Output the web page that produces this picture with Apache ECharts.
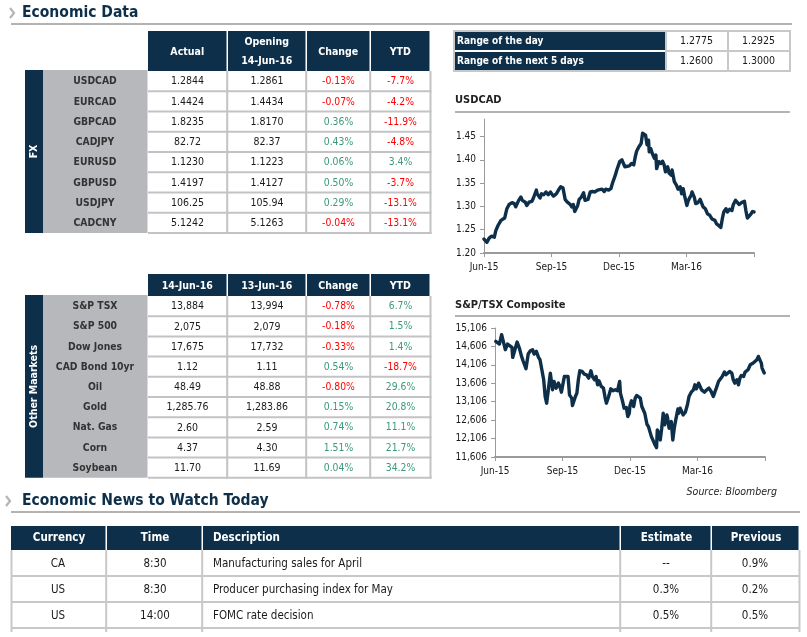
<!DOCTYPE html>
<html><head><meta charset="utf-8">
<script src="https://cdn.jsdelivr.net/npm/echarts@6/dist/echarts.min.js"></script>
<style>html,body{margin:0;padding:0;background:#fff}#c{width:807px;height:637px}</style>
</head><body><div id="c"></div>
<script>
// ---------- DATA ----------
const fxPairs = ['USDCAD','EURCAD','GBPCAD','CADJPY','EURUSD','GBPUSD','USDJPY','CADCNY'];
const fxActual = ['1.2844','1.4424','1.8235','82.72','1.1230','1.4197','106.25','5.1242'];
const fxOpening = ['1.2861','1.4434','1.8170','82.37','1.1223','1.4127','105.94','5.1263'];
const fxChange = [-0.13,-0.07,0.36,0.43,0.06,0.50,0.29,-0.04];
const fxYtd = [-7.7,-4.2,-11.9,-4.8,3.4,-3.7,-13.1,-13.1];
const fxHeaders = ['Actual','Opening\n14-Jun-16','Change','YTD'];

const mktNames = ['S&P TSX','S&P 500','Dow Jones','CAD Bond 10yr','Oil','Gold','Nat. Gas','Corn','Soybean'];
const mktToday = ['13,884','2,075','17,675','1.12','48.49','1,285.76','2.60','4.37','11.70'];
const mktPrev = ['13,994','2,079','17,732','1.11','48.88','1,283.86','2.59','4.30','11.69'];
const mktChange = [-0.78,-0.18,-0.33,0.54,-0.80,0.15,0.74,1.51,0.04];
const mktYtd = [6.7,1.5,1.4,-18.7,29.6,20.8,11.1,21.7,34.2];
const mktHeaders = ['14-Jun-16','13-Jun-16','Change','YTD'];

const rangeLabels = ['Range of the day','Range of the next 5 days'];
const rangeLow = ['1.2775','1.2600'];
const rangeHigh = ['1.2925','1.3000'];

const newsHeaders = ['Currency','Time','Description','Estimate','Previous'];
const newsCurrency = ['CA','US','US'];
const newsTime = ['8:30','8:30','14:00'];
const newsDesc = ['Manufacturing sales for April','Producer purchasing index for May','FOMC rate decision'];
const newsEstimate = ['--','0.3%','0.5%'];
const newsPrevious = ['0.9%','0.2%','0.5%'];

const xTickLabels = ['Jun-15','Sep-15','Dec-15','Mar-16'];
const usdcadTicks = [1.20,1.25,1.30,1.35,1.40,1.45];
const tsxTicks = [11606,12106,12606,13106,13606,14106,14606,15106];

const usdcadDates = ['2015-06-01','2015-06-05','2015-06-08','2015-06-11','2015-06-15','2015-06-17','2015-06-20','2015-06-24','2015-06-26','2015-06-29',
'2015-07-02','2015-07-05','2015-07-09','2015-07-12','2015-07-14','2015-07-18','2015-07-21','2015-07-23','2015-07-27','2015-07-29',
'2015-08-01','2015-08-05','2015-08-07','2015-08-11','2015-08-12','2015-08-16','2015-08-18','2015-08-21','2015-08-24','2015-08-27','2015-08-30',
'2015-09-03','2015-09-07','2015-09-10','2015-09-13','2015-09-16','2015-09-19','2015-09-22','2015-09-26','2015-09-28','2015-09-30',
'2015-10-02','2015-10-06','2015-10-08','2015-10-11','2015-10-14','2015-10-16','2015-10-18','2015-10-20','2015-10-23','2015-10-26','2015-10-29',
'2015-11-02','2015-11-04','2015-11-08','2015-11-11','2015-11-13','2015-11-17','2015-11-20','2015-11-22','2015-11-26','2015-11-28','2015-11-30',
'2015-12-02','2015-12-05','2015-12-07','2015-12-09','2015-12-11','2015-12-15','2015-12-18','2015-12-21','2015-12-23','2015-12-25','2015-12-28','2015-12-31',
'2016-01-02','2016-01-04','2016-01-06','2016-01-08','2016-01-10','2016-01-11','2016-01-13','2016-01-15','2016-01-18','2016-01-20','2016-01-21','2016-01-24','2016-01-27','2016-01-29','2016-01-31',
'2016-02-02','2016-02-05','2016-02-07','2016-02-10','2016-02-11','2016-02-14','2016-02-17','2016-02-19','2016-02-22','2016-02-24','2016-02-26','2016-02-28',
'2016-03-02','2016-03-04','2016-03-08','2016-03-09','2016-03-12','2016-03-14','2016-03-17','2016-03-20','2016-03-22','2016-03-24','2016-03-27','2016-03-30',
'2016-04-02','2016-04-05','2016-04-07','2016-04-09','2016-04-11','2016-04-14','2016-04-17','2016-04-19','2016-04-21','2016-04-24','2016-04-26','2016-04-29',
'2016-05-02','2016-05-04','2016-05-07','2016-05-09','2016-05-12','2016-05-14','2016-05-16','2016-05-19','2016-05-21','2016-05-23','2016-05-25','2016-05-28','2016-05-30','2016-06-01'];
const usdcadValues = [1.230,1.223,1.232,1.236,1.234,1.248,1.259,1.270,1.270,1.275,
1.295,1.304,1.308,1.306,1.299,1.313,1.320,1.313,1.309,1.302,
1.309,1.311,1.318,1.335,1.327,1.318,1.327,1.325,1.331,1.325,1.331,
1.322,1.327,1.335,1.342,1.340,1.315,1.309,1.304,1.299,1.304,
1.289,1.302,1.315,1.320,1.329,1.313,1.309,1.315,1.331,1.332,1.331,
1.335,1.331,1.337,1.332,1.337,1.335,1.338,1.349,1.367,1.378,1.378,
1.396,1.400,1.392,1.385,1.389,1.387,1.392,1.389,1.406,1.419,1.428,1.435,
1.457,1.460,1.453,1.432,1.442,1.417,1.424,1.414,1.403,1.410,1.381,1.396,1.392,1.397,1.390,
1.374,1.385,1.371,1.367,1.378,1.353,1.345,1.337,1.342,1.327,1.338,1.322,
1.302,1.313,1.325,1.331,1.320,1.306,1.308,1.315,1.311,1.299,1.295,1.284,
1.281,1.273,1.277,1.270,1.263,1.259,1.255,1.273,1.288,1.295,1.288,1.294,
1.291,1.304,1.313,1.315,1.304,1.302,1.309,1.311,1.291,1.275,1.279,1.284,1.289,1.288];

const tsxDates = ['2015-06-02','2015-06-04','2015-06-07','2015-06-10','2015-06-11','2015-06-15','2015-06-18','2015-06-20','2015-06-24','2015-06-25','2015-06-28',
'2015-07-01','2015-07-04','2015-07-07','2015-07-09','2015-07-13','2015-07-16','2015-07-19','2015-07-22','2015-07-24','2015-07-27','2015-07-30',
'2015-08-01','2015-08-03','2015-08-06','2015-08-08','2015-08-10','2015-08-12','2015-08-15','2015-08-17','2015-08-18','2015-08-20','2015-08-23','2015-08-26','2015-08-28','2015-08-30',
'2015-09-03','2015-09-05','2015-09-08','2015-09-10','2015-09-13','2015-09-14','2015-09-18','2015-09-20','2015-09-22','2015-09-24','2015-09-27','2015-09-30',
'2015-10-03','2015-10-06','2015-10-09','2015-10-11','2015-10-14','2015-10-16','2015-10-18','2015-10-20','2015-10-23','2015-10-26','2015-10-28','2015-10-30',
'2015-11-02','2015-11-05','2015-11-08','2015-11-11','2015-11-14','2015-11-17','2015-11-18','2015-11-21','2015-11-23','2015-11-26','2015-11-28','2015-11-30',
'2015-12-01','2015-12-03','2015-12-06','2015-12-08','2015-12-10','2015-12-12','2015-12-15','2015-12-17','2015-12-19','2015-12-21','2015-12-24','2015-12-26','2015-12-28','2015-12-30',
'2016-01-02','2016-01-04','2016-01-06','2016-01-07','2016-01-09','2016-01-11','2016-01-13','2016-01-15','2016-01-17','2016-01-20','2016-01-21','2016-01-23','2016-01-26','2016-01-28','2016-01-30',
'2016-02-01','2016-02-04','2016-02-05','2016-02-07','2016-02-09','2016-02-11','2016-02-14','2016-02-17','2016-02-19','2016-02-22','2016-02-25','2016-02-27','2016-02-29',
'2016-03-03','2016-03-05','2016-03-07','2016-03-11','2016-03-14','2016-03-17','2016-03-20','2016-03-23','2016-03-25','2016-03-27','2016-03-30',
'2016-04-01','2016-04-04','2016-04-07','2016-04-09','2016-04-11','2016-04-14','2016-04-17','2016-04-19','2016-04-21','2016-04-24','2016-04-26','2016-04-28','2016-04-30',
'2016-05-03','2016-05-05','2016-05-07','2016-05-09','2016-05-12','2016-05-14','2016-05-16','2016-05-18','2016-05-21','2016-05-23','2016-05-25','2016-05-27','2016-05-28','2016-05-31'];
const tsxValues = [14743,14789,14671,14925,14970,14517,14671,14698,14580,14308,14517,
14725,14562,14335,14218,14000,14399,14490,14517,14399,14471,14308,
14245,14218,13701,13247,13066,13383,13882,13855,13429,13655,13474,13610,13520,13365,
13791,13764,13791,13293,13202,13003,13247,13338,13701,13945,13927,13855,
13837,13746,13945,13791,13701,13791,13565,13673,13520,13474,13247,13066,
13247,13456,13402,13429,13402,13655,13338,13111,12930,12948,12703,12794,
13003,13129,12975,13202,13275,13247,13202,12975,12930,12794,12495,12431,12295,12159,
12023,11932,11860,12340,12250,12069,12386,12794,12477,12749,12658,12386,12567,12069,12386,
12613,12912,12794,12930,12839,12749,12821,13039,13247,13365,13429,13565,13456,
13610,13565,13429,13365,13429,13474,13383,13247,13365,13474,13655,
13673,13791,13909,13837,13855,13927,13882,13701,13610,13701,13565,13746,13819,
13791,13909,13855,13973,14109,14063,14154,14109,14245,14335,14381,14154,14018,13884];

// ---------- STYLE ----------
const FONT = "'DejaVu Sans Condensed','DejaVu Sans',sans-serif";
const NAVY = '#0d2f4a';
const GRAYCOL = '#b7b8bb';
const GRID = '#c3c3c6';
const RED = '#ff0000';
const GREEN = '#3a9a78';
const TEXT = '#1a1a1a';

const g = [];
function rect(x,y,w,h,fill,extra){ g.push({type:'rect', silent:true, shape:{x:x,y:y,width:w,height:h}, style:Object.assign({fill:fill}, extra||{})}); }
function line(x1,y1,x2,y2,stroke,lw){ g.push({type:'line', silent:true, shape:{x1:x1,y1:y1,x2:x2,y2:y2}, style:{stroke:stroke, lineWidth:lw||1}}); }
function txt(x,y,s,o){ o=o||{};
  g.push({type:'text', silent:true, x:x, y:y, rotation:o.rot||0, z:10,
    style:{text:s, x:0, y:0, fill:o.color||TEXT,
      font:(o.italic?'italic ':'')+(o.bold?'bold ':'')+(o.size||10)+'px '+FONT,
      textAlign:o.align||'center', textVerticalAlign:'middle', lineHeight:o.lh||null}});
}
function chevron(x,y){ g.push({type:'polyline', silent:true, shape:{points:[[x,y-5],[x+4,y],[x,y+5]]}, style:{stroke:'#b5b5b5', lineWidth:2.2, fill:null}}); }
const pct = (v,d) => v.toFixed(d)+'%';
const sgnColor = v => v < 0 ? RED : GREEN;

// ---------- HEADER ----------
chevron(10,13);
txt(22,13,'Economic Data',{bold:true,size:15.5,align:'left',color:NAVY});
line(11,24,792,24,'#b3b3b3',2);

// ---------- MARKET TABLES ----------
const tCols = [148,228,307,371,431];
function marketTable(hTop,hH,headers,rowTop,rowH,labels,c1,c2,chg,ytd,side,sideTop){
  const n = labels.length, bottom = rowTop + n*rowH;
  for(let i=0;i<4;i++) rect(tCols[i],hTop,tCols[i+1]-tCols[i]-1.5,hH,NAVY);
  rect(25,sideTop,18,bottom-sideTop,NAVY);
  rect(43,sideTop,104.5,bottom-sideTop,GRAYCOL);
  for(let r=1;r<=n;r++) line(148,rowTop+r*rowH,431.5,rowTop+r*rowH,GRID,2);
  [227.2,306.2,370.2,430.5].forEach(x=>line(x,hTop+hH,x,bottom+1,GRID,2));
  for(let i=0;i<4;i++){
    const cx=(tCols[i]+tCols[i+1]-1.5)/2;
    txt(cx,hTop+hH/2+1,headers[i],{bold:true,size:10.5,color:'#fff',lh:19});
  }
  txt(34,(sideTop+bottom)/2,side,{bold:true,size:10.5,color:'#fff',rot:Math.PI/2});
  for(let r=0;r<n;r++){
    const cy=rowTop+r*rowH+rowH/2+0.5;
    txt(95,cy,labels[r],{bold:true,size:10.3,color:'#333'});
    txt(187.5,cy,c1[r],{size:10.5});
    txt(267,cy,c2[r],{size:10.5});
    txt(338.5,cy,pct(chg[r],2),{size:10.3,color:sgnColor(chg[r])});
    txt(400.5,cy,pct(ytd[r],1),{size:10.3,color:sgnColor(ytd[r])});
  }
}
marketTable(31,40,fxHeaders,71,20.25,fxPairs,fxActual,fxOpening,fxChange,fxYtd,'FX',70);
marketTable(274,22,mktHeaders,296,20.2,mktNames,mktToday,mktPrev,mktChange,mktYtd,'Other Maarkets',295);

// ---------- RANGE TABLE ----------
rect(454,31,336,40,'#fff',{stroke:'#c8c8c8',lineWidth:2});
rangeLabels.forEach((s,i)=>{
  const y=32+i*20;
  rect(455,y,210,18,NAVY);
  txt(457,y+9,s,{bold:true,size:10,color:'#fff',align:'left'});
  txt(696.5,y+9.5,rangeLow[i],{size:10.5});
  txt(758.5,y+9.5,rangeHigh[i],{size:10.5});
});
line(666,31,666,71,'#c8c8c8',2);
line(728,31,728,71,'#c8c8c8',2);
line(666,51,790,51,'#c8c8c8',2);

// ---------- CHART TITLES ----------
txt(455,100,'USDCAD',{bold:true,size:11,align:'left',color:'#222'});
line(455,112,790,112,'#b3b3b3',2);
txt(455,305,'S&P/TSX Composite',{bold:true,size:11,align:'left',color:'#222'});
line(455,316,790,316,'#b3b3b3',2);
txt(777,492,'Source: Bloomberg',{italic:true,size:10.5,align:'right',color:'#222'});

// ---------- NEWS ----------
chevron(6,501);
txt(22,501,'Economic News to Watch Today',{bold:true,size:15.5,align:'left',color:NAVY});
line(11,512,800,512,'#b3b3b3',2);
const nb = [11,107,203,621,712,800];
for(let i=0;i<5;i++) rect(nb[i],526,nb[i+1]-nb[i]-1.5,24,NAVY);
[576,602,628].forEach(y=>line(11,y,800,y,'#c8c8c8',2));
[11.5,106.2,202.2,620.2,711.2,799.5].forEach(x=>line(x,550,x,632,'#c8c8c8',2));
newsHeaders.forEach((h,i)=>{
  if(i===2) txt(213,538,h,{bold:true,size:11.5,color:'#fff',align:'left'});
  else txt((nb[i]+nb[i+1])/2,538,h,{bold:true,size:11.5,color:'#fff'});
});
for(let r=0;r<3;r++){
  const cy=564+r*26;
  txt(58,cy,newsCurrency[r],{size:11.5});
  txt(155,cy,newsTime[r],{size:11.5});
  txt(213,cy,newsDesc[r],{size:11.5,align:'left'});
  txt(666,cy,newsEstimate[r],{size:11.5});
  txt(755,cy,newsPrevious[r],{size:11.5});
}

// ---------- CHARTS ----------
const base = Date.parse('2015-06-01');
const dayOf = s => (Date.parse(s) - base)/864e5;
const Q = 91.5;
function xAxisCfg(i){
  return {gridIndex:i, type:'value', min:0, max:366, interval:Q,
    axisLine:{show:true, lineStyle:{color:'#9a9a9a', width:2}},
    axisTick:{show:true, length:4, lineStyle:{color:'#9a9a9a'}},
    splitLine:{show:false},
    axisLabel:{color:TEXT, fontFamily:FONT, fontSize:10, margin:9,
      formatter:v=>xTickLabels[Math.round(v/Q)]||''}};
}
function yAxisCfg(i,min,max,ticks,fmt){
  return {gridIndex:i, type:'value', min:min, max:max,
    axisLine:{show:true, lineStyle:{color:'#9a9a9a', width:1}},
    axisTick:{show:true, length:4, inside:false, lineStyle:{color:'#9a9a9a'}, customValues:ticks},
    splitLine:{show:false},
    axisLabel:{color:TEXT, fontFamily:FONT, fontSize:10, margin:8, customValues:ticks, formatter:fmt}};
}
const lineSeries = (i,dates,vals) => ({type:'line', xAxisIndex:i, yAxisIndex:i, showSymbol:false, symbol:'none',
  data:dates.map((d,k)=>[dayOf(d),vals[k]]),
  lineStyle:{color:NAVY, width:3.4, join:'round', cap:'round'}, itemStyle:{color:NAVY}});

const chart = echarts.init(document.getElementById('c'), null, {renderer:'canvas'});
chart.setOption({
  backgroundColor:'#fff',
  animation:false,
  grid:[{left:484, top:119, width:270, height:134}, {left:495, top:328, width:270, height:129}],
  xAxis:[xAxisCfg(0), xAxisCfg(1)],
  yAxis:[yAxisCfg(0,1.2,1.4875,usdcadTicks,v=>v.toFixed(2)),
         yAxisCfg(1,11606,15106,tsxTicks,v=>v.toLocaleString('en-US'))],
  series:[lineSeries(0,usdcadDates,usdcadValues), lineSeries(1,tsxDates,tsxValues)],
  graphic:{elements:g}
});
</script></body></html>
